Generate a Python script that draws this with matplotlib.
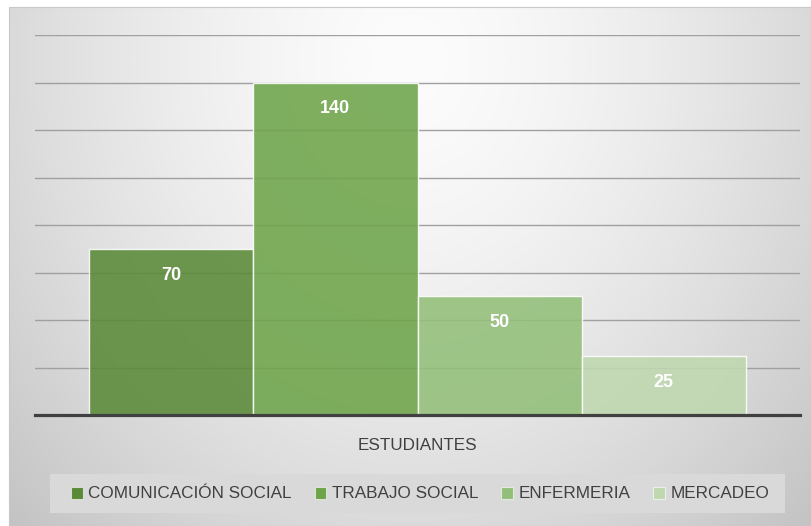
import numpy as np
import matplotlib
matplotlib.use("Agg")
import matplotlib.pyplot as plt
from matplotlib.patches import Rectangle

# Data
category = "ESTUDIANTES"
series = ["COMUNICACIÓN SOCIAL", "TRABAJO SOCIAL", "ENFERMERIA", "MERCADEO"]
values = [70, 140, 50, 25]
colors = ["#5A8937", "#6DA449", "#93BF7A", "#BFD8B0"]

plt.rcParams['font.family'] = ['Liberation Sans', 'DejaVu Sans']

W, H = 811, 526
fig = plt.figure(figsize=(W / 100, H / 100), dpi=100)
fig.patch.set_facecolor("white")

# Chart area background (radial gray gradient)
bg = fig.add_axes([9 / W, 0, 1 - 9 / W, 1 - 7 / H], zorder=0)
ny, nx = 300, 500
yy, xx = np.mgrid[0:1:ny * 1j, 0:1:nx * 1j]
r = np.sqrt(((xx - 0.5) / 0.6) ** 2 + ((yy - 0.1) / 1.1) ** 2)
gray = np.clip(252 - 45 * r ** 1.5, 192, 252) / 255.0
bg.imshow(np.dstack([gray, gray, gray]), aspect="auto", extent=[0, 1, 1, 0])
bg.set_xlim(0, 1)
bg.set_ylim(1, 0)
bg.axis("off")
fig.patches.append(Rectangle((9 / W, 0), 1, 1 - 7 / H, transform=fig.transFigure,
                             fill=False, edgecolor="#c8c8c8", lw=0.8, zorder=1))

# Main axes
ax = fig.add_axes([35 / W, 1 - 415 / H, (800 - 35) / W, (415 - 35) / H], zorder=2)
ax.patch.set_alpha(0)
x = np.arange(len(values))
ax.set_xlim(-0.5 - 54 / 164, len(values) - 0.5 + 54 / 164)
ax.set_ylim(0, 160)
ax.set_yticks(np.arange(20, 161, 20))
ax.yaxis.grid(True, color="#a0a0a0", lw=1.0, zorder=0)
ax.set_axisbelow(True)
ax.tick_params(axis="y", left=False, labelleft=False)
for s in ax.spines.values():
    s.set_visible(False)

bars = ax.bar(x, values, width=1.0, color=colors, alpha=0.88,
              edgecolor=(1, 1, 1, 0.5), lw=1.0, zorder=2)
for xi, v in zip(x, values):
    ax.annotate(str(v), (xi, v), xytext=(0, -19), textcoords="offset points",
                ha="center", va="center", color="white", fontsize=13,
                fontweight="bold", zorder=4)

ax.axhline(0, color="#404040", lw=2.3, zorder=3, clip_on=False)

ax.set_xticks([(len(values) - 1) / 2])
ax.set_xticklabels([category], fontsize=12.3, color="#404040")
ax.tick_params(axis="x", length=0, pad=16.5)

# Legend box
fig.patches.append(Rectangle((50 / W, 1 - 513 / H), (785 - 50) / W, 39 / H,
                             transform=fig.transFigure, facecolor="#d9d9d9",
                             edgecolor="none", zorder=1.5))
handles = [Rectangle((0, 0), 1, 1, facecolor=c, edgecolor=(1, 1, 1, 0.6), lw=0.8)
           for c in colors]
leg = fig.legend(handles, series, loc="center", bbox_to_anchor=(420 / W, 1 - 494 / H),
                 ncol=4, frameon=False, fontsize=12.3,
                 handlelength=0.7, handleheight=0.7, handletextpad=0.3,
                 columnspacing=1.35, borderpad=0.3)
leg.set_zorder(3)
for t in leg.get_texts():
    t.set_color("#404040")

fig.savefig("out.png", dpi=100)
